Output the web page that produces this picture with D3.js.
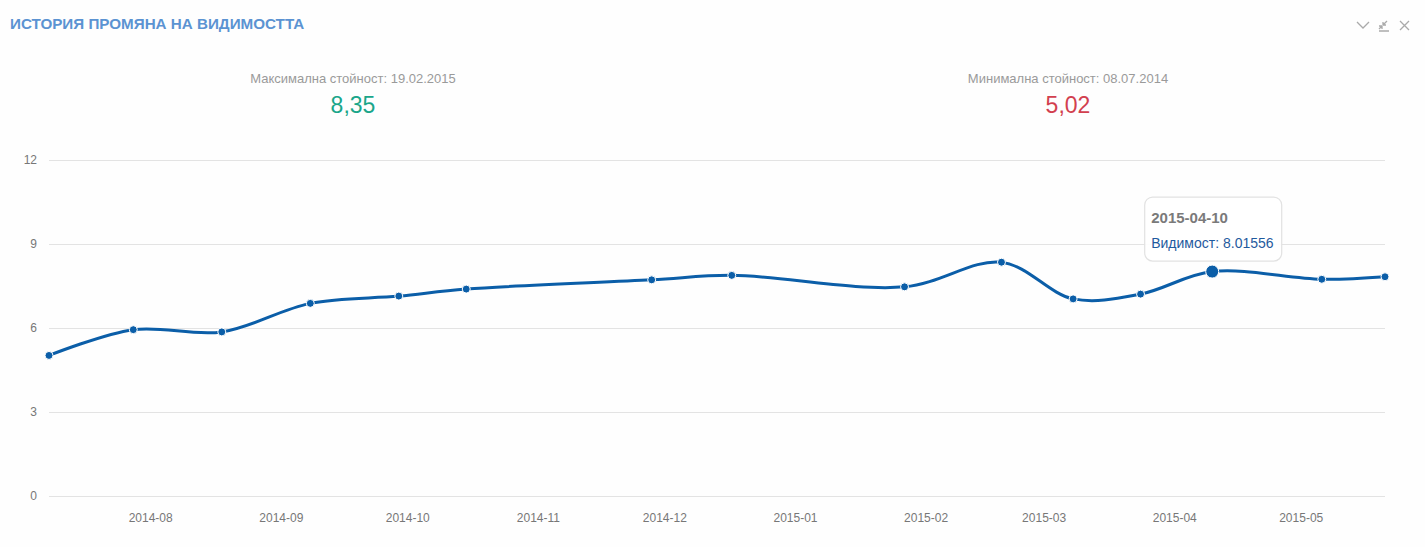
<!DOCTYPE html>
<html>
<head>
<meta charset="utf-8">
<script src="https://cdn.jsdelivr.net/npm/d3@7"></script>
<style>
  html, body { margin: 0; padding: 0; background: #fefefe; }
  svg { display: block; font-family: "Liberation Sans", Arial, Helvetica, sans-serif; }
</style>
</head>
<body>
<svg id="chart" width="1425" height="547"></svg>
<script>
const titleText = "ИСТОРИЯ ПРОМЯНА НА ВИДИМОСТТА";
const dates = ["2014-07-08","2014-07-28","2014-08-18","2014-09-08","2014-09-29","2014-10-15","2014-11-28","2014-12-17","2015-01-27","2015-02-19","2015-03-08","2015-03-24","2015-04-10","2015-05-06","2015-05-21"];
const values = [5.02, 5.94, 5.86, 6.88, 7.14, 7.39, 7.72, 7.88, 7.47, 8.35, 7.04, 7.21, 8.01556, 7.74, 7.83];
const yTicks = [0, 3, 6, 9, 12];
const xTickLabels = ["2014-08","2014-09","2014-10","2014-11","2014-12","2015-01","2015-02","2015-03","2015-04","2015-05"];
const maxLabel = "Максимална стойност: 19.02.2015";
const maxValueText = "8,35";
const minLabel = "Минимална стойност: 08.07.2014";
const minValueText = "5,02";
const tooltipDate = "2015-04-10";
const tooltipLabel = "Видимост: 8.01556";
const hoverIndex = 12;

const parse = d3.utcParse("%Y-%m-%d");
const parseMonth = d3.utcParse("%Y-%m");
const data = dates.map((d, i) => ({ date: parse(d), value: values[i] }));

const svg = d3.select("#chart");
const mLeft = 49, mRight = 1385, mTop = 160, mBottom = 496;

const x = d3.scaleUtc().domain([data[0].date, data[data.length - 1].date]).range([mLeft, mRight]);
const y = d3.scaleLinear().domain([0, 12]).range([mBottom, mTop]);

// Title
svg.append("text").attr("x", 10).attr("y", 29)
  .attr("fill", "#5b93d2").attr("font-size", 15.2).attr("font-weight", "bold")
  .text(titleText);

// Top-right icons
const icons = svg.append("g").attr("stroke", "#aaa").attr("fill", "none").attr("stroke-width", 1.3);
icons.append("path").attr("d", "M1357,22 L1363,28 L1369,22");
icons.append("path").attr("d", "M1387,21 L1383,25 M1383,22 L1383,25 L1386,25 M1379,29 L1382,26 M1382,26 L1382,29 M1382,26 L1379,26 M1379,31 L1389,31");
icons.append("path").attr("d", "M1400,21 L1409,30 M1409,21 L1400,30");

// Stats
const stats = [
  { cx: 353, label: maxLabel, value: maxValueText, color: "#1aa68a" },
  { cx: 1068, label: minLabel, value: minValueText, color: "#d2404f" }
];
stats.forEach(s => {
  svg.append("text").attr("x", s.cx).attr("y", 83).attr("text-anchor", "middle")
    .attr("fill", "#9a9a9a").attr("font-size", 13).text(s.label);
  svg.append("text").attr("x", s.cx).attr("y", 113).attr("text-anchor", "middle")
    .attr("fill", s.color).attr("font-size", 23).text(s.value);
});

// Grid + y axis
const yAxis = svg.append("g").attr("transform", `translate(${mLeft},0)`)
  .call(d3.axisLeft(y).tickValues(yTicks).tickSize(-(mRight - mLeft)).tickPadding(12));
yAxis.select(".domain").remove();
yAxis.selectAll(".tick line").attr("stroke", "#e3e3e3").attr("stroke-width", 1.2);
yAxis.selectAll(".tick text").attr("fill", "#777").attr("font-size", 12)
  .attr("font-family", "Liberation Sans, Arial, sans-serif");

// x axis
const xAxis = svg.append("g").attr("transform", `translate(0,${mBottom})`)
  .call(d3.axisBottom(x).tickValues(xTickLabels.map(parseMonth)).tickFormat(d3.utcFormat("%Y-%m")).tickSize(0).tickPadding(17));
xAxis.select(".domain").remove();
xAxis.selectAll(".tick text").attr("fill", "#777").attr("font-size", 12)
  .attr("font-family", "Liberation Sans, Arial, sans-serif");

// Line
const line = d3.line().x(d => x(d.date)).y(d => y(d.value)).curve(d3.curveCatmullRom.alpha(0.5));
svg.append("path").datum(data).attr("d", line)
  .attr("fill", "none").attr("stroke", "#0b5ea8").attr("stroke-width", 3)
  .attr("stroke-linejoin", "round").attr("stroke-linecap", "round");

// Markers
svg.append("g").selectAll("circle").data(data).join("circle")
  .attr("cx", d => x(d.date)).attr("cy", d => y(d.value))
  .attr("r", (d, i) => i === hoverIndex ? 6.5 : 4)
  .attr("fill", "#0b5ea8").attr("stroke", "#fff").attr("stroke-width", 1);

// Tooltip
const tp = data[hoverIndex];
const tx = x(tp.date) - 68, ty = y(tp.value) - 75;
const tg = svg.append("g").attr("transform", `translate(${tx},${ty})`);
tg.append("rect").attr("x", 0.5).attr("y", 0.5).attr("width", 137).attr("height", 64).attr("rx", 8)
  .attr("fill", "rgba(255,255,255,0.9)").attr("stroke", "#e2e2e2").attr("stroke-width", 1.2);
tg.append("text").attr("x", 7).attr("y", 26).attr("fill", "#7a7a7a").attr("font-size", 15)
  .attr("font-weight", "bold").text(tooltipDate);
tg.append("text").attr("x", 7).attr("y", 51).attr("fill", "#1f5a9e").attr("font-size", 14)
  .text(tooltipLabel);
</script>
</body>
</html>
